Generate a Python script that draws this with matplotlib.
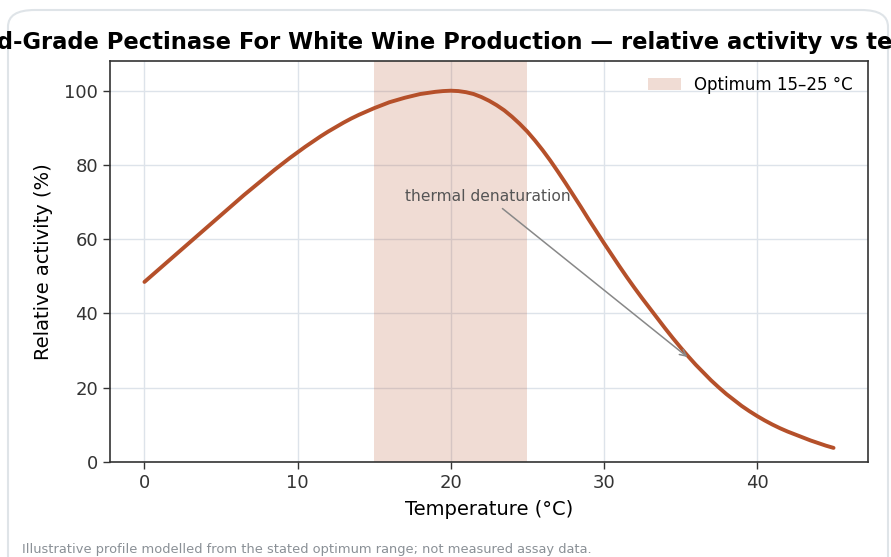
import matplotlib
matplotlib.use("Agg")
import matplotlib.pyplot as plt
from matplotlib.patches import FancyBboxPatch

# Temperature profile, 0.5 degC steps from 0 to 45
temps = [i * 0.5 for i in range(91)]
activity = [48.5, 50.3, 52.1, 53.9, 55.7, 57.5, 59.3, 61.1, 62.9, 64.7,
            66.5, 68.3, 70.1, 71.9, 73.6, 75.3, 77.0, 78.7, 80.3, 81.9,
            83.4, 84.9, 86.3, 87.7, 89.0, 90.2, 91.4, 92.5, 93.5, 94.4,
            95.3, 96.1, 96.9, 97.5, 98.1, 98.6, 99.1, 99.4, 99.7, 99.9,
            100.0, 99.9, 99.6, 99.1, 98.3, 97.3, 96.1, 94.7, 93.0, 91.1,
            89.0, 86.6, 84.0, 81.2, 78.2, 75.1, 71.9, 68.7, 65.4, 62.2,
            59.0, 55.9, 52.8, 49.8, 46.9, 44.1, 41.4, 38.7, 36.0, 33.4,
            30.9, 28.5, 26.2, 24.1, 22.0, 20.1, 18.3, 16.7, 15.1, 13.7,
            12.4, 11.2, 10.1, 9.1, 8.2, 7.4, 6.6, 5.8, 5.1, 4.4,
            3.8]
opt_lo, opt_hi = 15, 25
arrow_target = (35.6, 27.8)
arrow_text_pos = (22.4, 71.5)

line_color = "#b5502a"

fig = plt.figure(figsize=(8.91, 5.57), dpi=100)

# rounded card behind everything
card = FancyBboxPatch((8 / 891, -0.05), 880 / 891, 1.05 - 10 / 557,
                      boxstyle="round,pad=0,rounding_size=0.03",
                      transform=fig.transFigure, facecolor="white",
                      edgecolor="#dfe4e8", linewidth=1.5, zorder=-10)
fig.patches.append(card)

ax = fig.add_axes([110 / 891, 1 - 462 / 557, (868 - 110) / 891, (462 - 61) / 557])

ax.axvspan(opt_lo, opt_hi, color=line_color, alpha=0.2, linewidth=0,
           label=f"Optimum {opt_lo}–{opt_hi} °C", zorder=1)
ax.plot(temps, activity, color=line_color, linewidth=2.8, zorder=3,
        solid_joinstyle="round", solid_capstyle="round")

ax.annotate("thermal denaturation", xy=arrow_target, xytext=arrow_text_pos,
            ha="center", va="center", fontsize=11.2, color="#555555",
            arrowprops=dict(arrowstyle="->", color="#888888", lw=1.1))

ax.set_xlim(-2.25, 47.25)
ax.set_ylim(0, 108)
ax.set_xticks([0, 10, 20, 30, 40])
ax.set_yticks([0, 20, 40, 60, 80, 100])
ax.grid(True, color="#dde3ea", linewidth=1.0, zorder=0)
ax.set_axisbelow(True)

for s in ax.spines.values():
    s.set_color("#333333")
    s.set_linewidth(1.2)
ax.tick_params(labelsize=13, colors="#333333", length=5, width=1)

ax.set_xlabel("Temperature (°C)", fontsize=14, labelpad=6)
ax.set_ylabel("Relative activity (%)", fontsize=14, labelpad=8)
ax.set_title("Food-Grade Pectinase For White Wine Production — relative activity vs temperature",
             fontsize=16.3, fontweight="bold", pad=9)

ax.legend(loc="upper right", frameon=False, fontsize=12, handlelength=2.0)

fig.text(22 / 891, 1 - 550 / 557, "Illustrative profile modelled from the stated optimum range; not measured assay data.",
         fontsize=9.4, color="#8a9096", va="center")

fig.savefig("out.png", dpi=100)
